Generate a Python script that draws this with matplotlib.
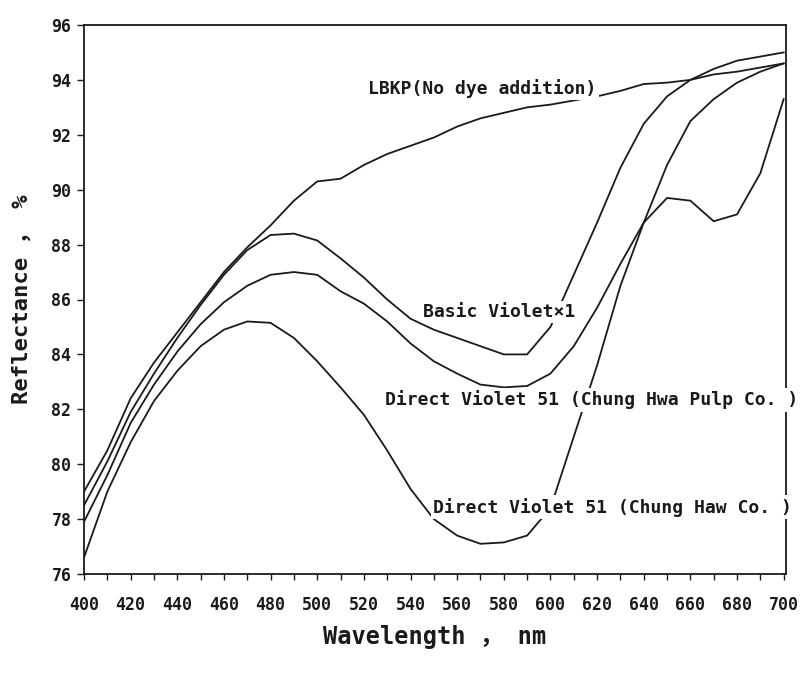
import matplotlib
matplotlib.use("Agg")
import matplotlib.pyplot as plt
from matplotlib.ticker import MultipleLocator

# ---- data ----
wavelength = [400, 410, 420, 430, 440, 450, 460, 470, 480, 490, 500,
              510, 520, 530, 540, 550, 560, 570, 580, 590, 600,
              610, 620, 630, 640, 650, 660, 670, 680, 690, 700]

lbkp = [79.0, 80.5, 82.4, 83.7, 84.8, 85.9, 87.0, 87.9, 88.7, 89.6, 90.3,
        90.4, 90.9, 91.3, 91.6, 91.9, 92.3, 92.6, 92.8, 93.0, 93.1,
        93.25, 93.4, 93.6, 93.85, 93.9, 94.0, 94.2, 94.3, 94.45, 94.6]

basic_violet = [78.5, 80.1, 81.9, 83.3, 84.6, 85.8, 86.9, 87.8, 88.35, 88.4, 88.15,
                87.5, 86.8, 86.0, 85.3, 84.9, 84.6, 84.3, 84.0, 84.0, 85.0,
                86.9, 88.8, 90.8, 92.4, 93.4, 94.0, 94.4, 94.7, 94.85, 95.0]

dv51_chung_hwa_pulp = [77.9, 79.6, 81.5, 82.9, 84.1, 85.1, 85.9, 86.5, 86.9, 87.0, 86.9,
                       86.3, 85.85, 85.2, 84.4, 83.75, 83.3, 82.9, 82.8, 82.85, 83.3,
                       84.3, 85.7, 87.3, 88.8, 90.9, 92.5, 93.3, 93.9, 94.3, 94.6]

dv51_chung_haw = [76.6, 79.0, 80.8, 82.3, 83.4, 84.3, 84.9, 85.2, 85.15, 84.6, 83.75,
                  82.8, 81.8, 80.5, 79.1, 78.0, 77.4, 77.1, 77.15, 77.4, 78.4,
                  81.0, 83.6, 86.5, 88.8, 89.7, 89.6, 88.85, 89.1, 90.6, 93.3]

series_labels = ["LBKP(No dye addition)",
                 "Basic Violet×1",
                 "Direct Violet 51 (Chung Hwa Pulp Co. )",
                 "Direct Violet 51 (Chung Haw Co. )"]

x_ticks = list(range(400, 701, 20))
y_ticks = list(range(76, 97, 2))

# ---- figure ----
fig = plt.figure(figsize=(8.02, 6.77), dpi=100)
W, H = 802, 677
ax = fig.add_axes([84 / W, 1 - 574 / H, (786 - 84) / W, (574 - 25) / H])

mono = ["DejaVu Sans Mono", "Noto Sans CJK SC"]
ink = "#1a1a1a"

for ys in (lbkp, basic_violet, dv51_chung_hwa_pulp, dv51_chung_haw):
    ax.plot(wavelength, ys, color=ink, lw=1.3, solid_joinstyle="round")

ax.set_xlim(400, 701)
ax.set_ylim(76, 96)
ax.set_xticks(x_ticks)
ax.xaxis.set_minor_locator(MultipleLocator(10))
ax.set_yticks(y_ticks)

for lab in ax.get_xticklabels() + ax.get_yticklabels():
    lab.set_fontfamily(mono)
    lab.set_fontsize(12)
    lab.set_fontweight("bold")
    lab.set_color(ink)

ax.tick_params(axis="x", which="both", direction="out", length=4, width=1,
               pad=12, colors=ink)
ax.tick_params(axis="y", which="both", direction="out", length=5, width=1,
               pad=4, colors=ink)

for s in ax.spines.values():
    s.set_color(ink)
    s.set_linewidth(1.3)

ax.set_xlabel("Wavelength ， nm", fontsize=17, family=mono, fontweight="bold",
              color=ink, labelpad=8)
ax.set_ylabel("Reflectance ， %", fontsize=16, family=mono, fontweight="bold",
              color=ink, labelpad=14)

# ---- curve annotations ----
label_pos = [(521.8, 93.7), (545.4, 85.55), (529.0, 82.34), (549.7, 78.44)]
for txt, (xx, yy) in zip(series_labels, label_pos):
    ax.text(xx, yy, txt, family=mono, fontsize=13, fontweight="bold", color=ink,
            ha="left", va="center", clip_on=False,
            bbox=dict(facecolor="white", edgecolor="none", pad=1.5))

fig.savefig("out.png", dpi=100, facecolor="white")
